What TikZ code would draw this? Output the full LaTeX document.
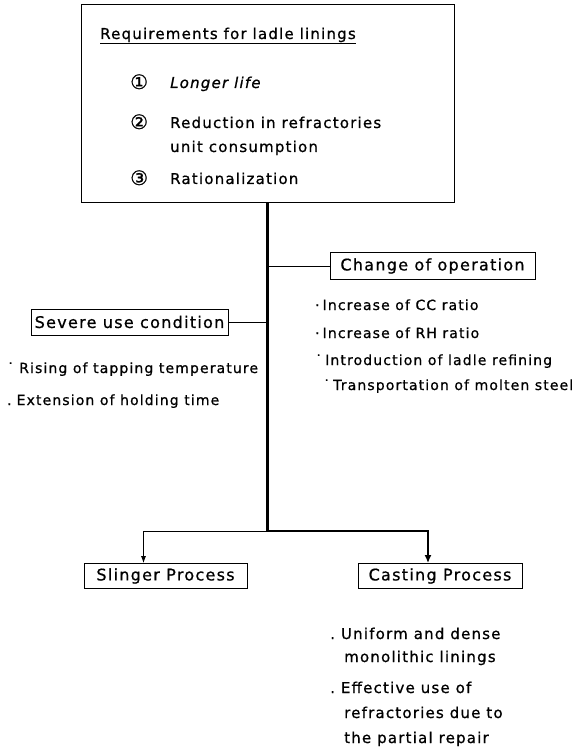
\documentclass[tikz,border=0pt]{standalone}
\usepackage{fontspec}
\setmainfont{DejaVu Sans}[LetterSpace=8,FakeBold=0.8]
\usetikzlibrary{arrows,arrows.meta}

\begin{document}
\begin{tikzpicture}[x=1pt,y=-1pt,
    box/.style={draw, line width=0.8pt, inner sep=0pt, font=\fontsize{16}{18}\selectfont},
    lbl/.style={anchor=base west, inner sep=0pt, font=\fontsize{15}{17}\selectfont},
    itm/.style={anchor=base west, inner sep=0pt, font=\fontsize{14}{16}\selectfont},
    note/.style={anchor=base west, inner sep=0pt, font=\fontsize{15}{17}\selectfont},
    num/.style={anchor=base west, inner sep=0pt, font=\fontsize{20}{20}\selectfont},
    trunk/.style={line width=2.6pt},
    branch/.style={line width=0.8pt}]
\useasboundingbox (0,0) rectangle (582,751);

% requirements
\node[box, minimum width=373pt, minimum height=198pt] (req) at (267.5,103) {};
\node[lbl] (title) at (100,39) {\underline{Requirements for ladle linings}};
\node[num] (n1) at (130,89) {①};
\node[lbl] (r1) at (170,88) {\itshape Longer life};
\node[num] (n2) at (130,129) {②};
\node[lbl] (r2) at (170,128) {Reduction in refractories};
\node[lbl] (r2b) at (170,152) {unit consumption};
\node[num] (n3) at (130,185) {③};
\node[lbl] (r3) at (170,184) {Rationalization};

% the two causes
\node[box, minimum width=205pt, minimum height=27pt] (chg) at (432.5,266) {Change of operation};
\node[box, minimum width=197pt, minimum height=26pt] (sev) at (129.5,322) {Severe use condition};

\node[itm] (c1) at (315,310) {·\hspace{3pt}Increase of CC ratio};
\node[itm] (c2) at (315,338) {·\hspace{3pt}Increase of RH ratio};
\node[itm] (c3) at (315,365) {˙\hspace{3pt}Introduction of ladle refining};
\node[itm] (c4) at (323,390) {˙\hspace{3pt}Transportation of molten steel};

\node[itm] (s1) at (7,373) {˙\hspace{5pt}Rising of tapping temperature};
\node[itm] (s2) at (7,405) {.\hspace{5pt}Extension of holding time};

% processes
\node[box, minimum width=163pt, minimum height=25pt] (sling) at (165.5,576) {Slinger Process};
\node[box, minimum width=164pt, minimum height=25pt] (cast) at (440,576) {Casting Process};

\node[note] (p1) at (330,639) {.\hspace{6pt}Uniform and dense};
\node[note] (p2) at (344,662) {monolithic linings};
\node[note] (p3) at (330,693) {.\hspace{6pt}Effective use of};
\node[note] (p4) at (344,718) {refractories due to};
\node[note] (p5) at (344,743) {the partial repair};

\coordinate (jn) at (267.5,531);
\draw[trunk] (req.south) -- (jn);
\draw[branch] (chg.west) -- (chg.west -| jn);
\draw[branch] (sev.east) -- (sev.east -| jn);
\draw[branch, -{Latex[length=7pt,width=5pt]}] (jn) -| ([xshift=-22pt]sling.north);
\draw[trunk, -{Latex[length=8pt,width=7pt]}] (jn) -| ([xshift=-12pt]cast.north);
\end{tikzpicture}
\end{document}
